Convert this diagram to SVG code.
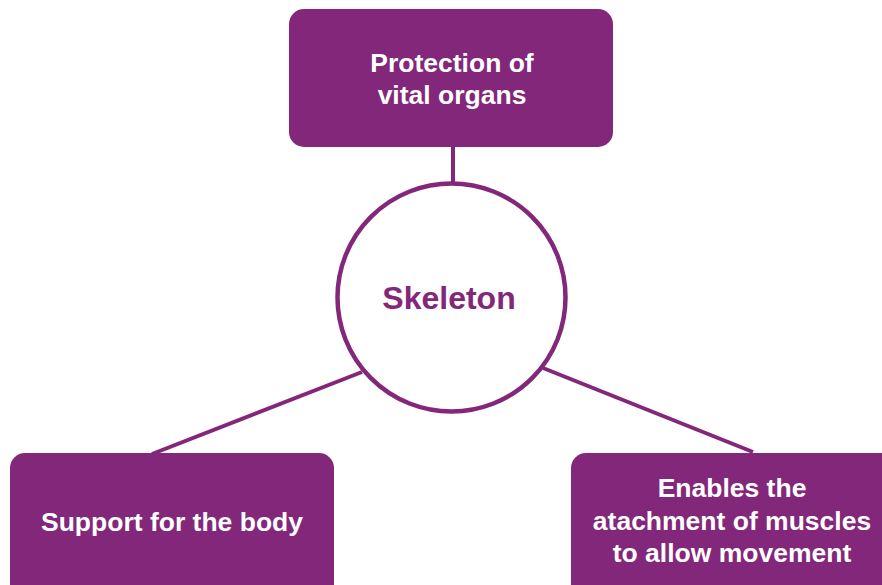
<svg xmlns="http://www.w3.org/2000/svg" width="882" height="585" viewBox="0 0 882 585">
<style>
.box{fill:#82277a}
.conn{stroke:#82277a;stroke-width:4;fill:none}
.lbl{font-family:"Liberation Sans",Arial,sans-serif;font-weight:bold;font-size:26.5px;fill:#ffffff;text-anchor:middle}
.ctr{font-family:"Liberation Sans",Arial,sans-serif;font-weight:bold;font-size:32px;fill:#82277a;text-anchor:middle}
</style>
<rect width="882" height="585" fill="#ffffff"/>
<g id="connectors">
<line class="conn" x1="453" y1="147" x2="453" y2="183"/>
<line class="conn" x1="152" y1="454" x2="362" y2="372"/>
<line class="conn" x1="543" y1="368" x2="753" y2="452"/>
</g>
<g id="node-top">
<rect class="box" x="289" y="9" width="324" height="138" rx="15"/>
<text class="lbl" x="452" y="72">Protection of</text>
<text class="lbl" x="452" y="104">vital organs</text>
</g>
<g id="node-center">
<circle cx="451.5" cy="297.5" r="114" fill="#ffffff" stroke="#82277a" stroke-width="4.5"/>
<text class="ctr" x="449" y="309">Skeleton</text>
</g>
<g id="node-left">
<rect class="box" x="10" y="453" width="324" height="150" rx="15"/>
<text class="lbl" x="172" y="531">Support for the body</text>
</g>
<g id="node-right">
<rect class="box" x="571" y="453" width="324" height="150" rx="15"/>
<text class="lbl" x="732" y="497">Enables the</text>
<text class="lbl" x="732" y="530">atachment of muscles</text>
<text class="lbl" x="732" y="562">to allow movement</text>
</g>
</svg>
